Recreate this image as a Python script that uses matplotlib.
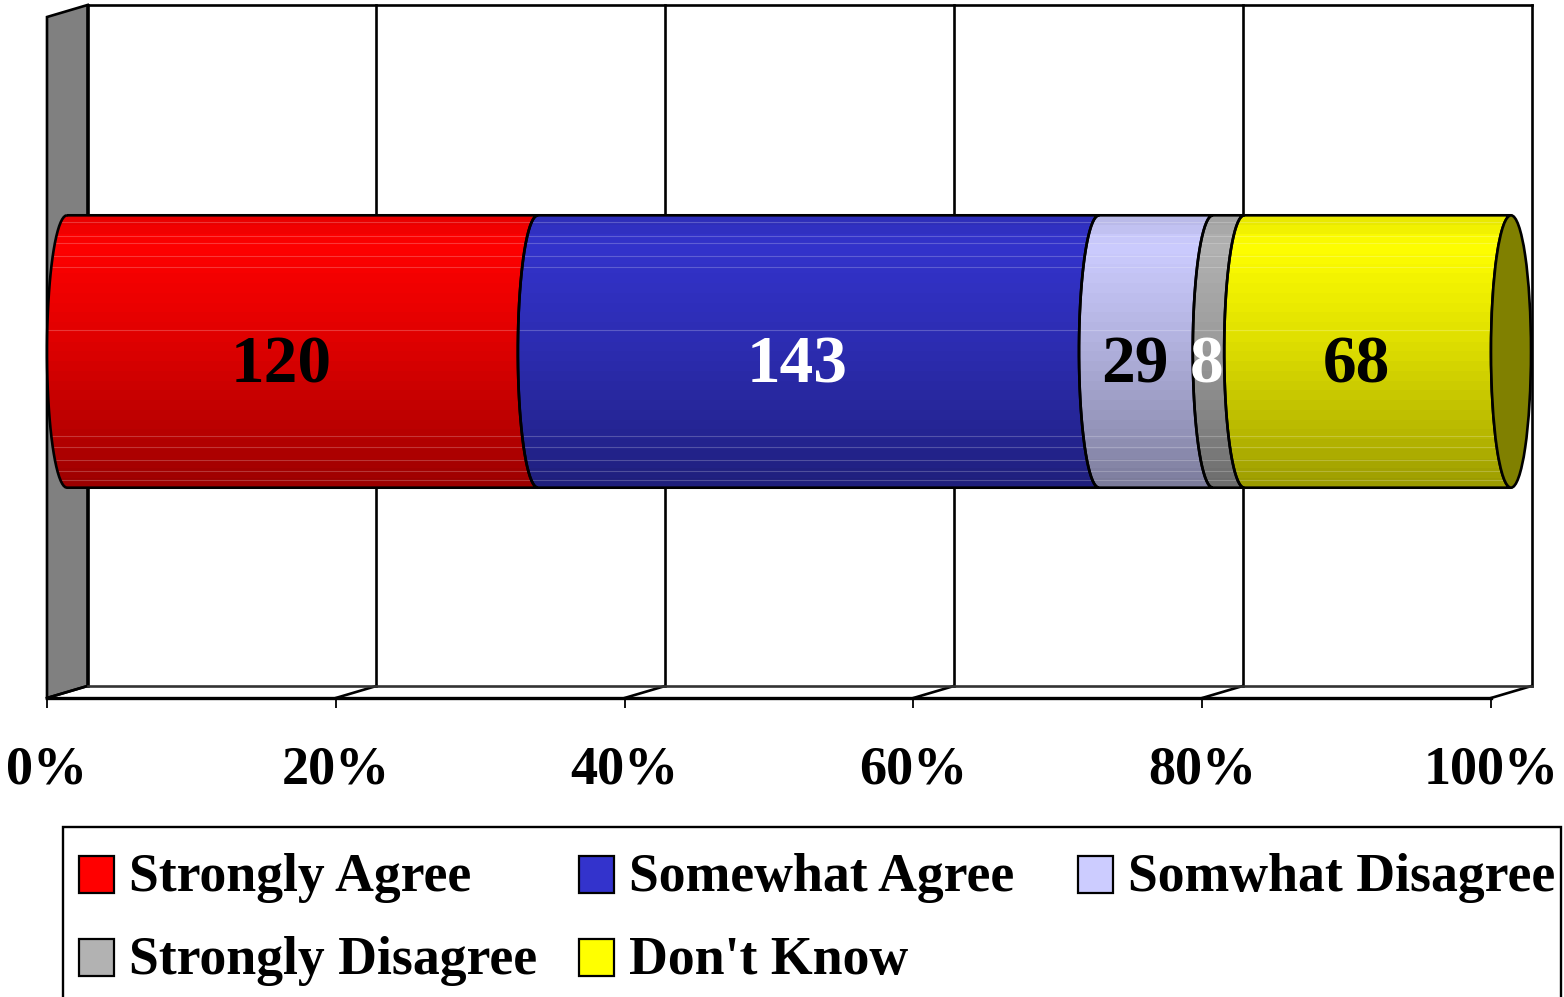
#!/usr/bin/env python3
"""100% stacked cylinder bar with a 3D-looking wall and floor."""

import numpy as np
import matplotlib
matplotlib.use('Agg')
import matplotlib.pyplot as plt
from matplotlib.patches import Ellipse, PathPatch, Polygon, Rectangle
from matplotlib.path import Path

# ======================== Data ========================
categories = ['Strongly Agree', 'Somewhat Agree', 'Somwhat Disagree',
              'Strongly Disagree', "Don't Know"]
counts = [120, 143, 29, 8, 68]
tick_values = [0, 20, 40, 60, 80, 100]
tick_labels = ['0%', '20%', '40%', '60%', '80%', '100%']

colors = ['#FF0000', '#3333CC', '#CCCCFF', '#B2B2B2', '#FFFF00']
label_colors = ['black', 'white', 'black', 'white', 'black']

W, H = 1564, 997
plt.rcParams['font.family'] = ['Liberation Serif', 'DejaVu Serif']
plt.rcParams['font.weight'] = 'bold'

fig = plt.figure(figsize=(W / 100, H / 100), dpi=100, facecolor='white')

# Legend layer in pixel coordinates
lax = fig.add_axes([0, 0, 1, 1])
lax.set_xlim(0, W)
lax.set_ylim(H, 0)
lax.axis('off')

ax = fig.add_axes([47 / W, (H - 698) / H, 1444 / W, 681 / H])
ax.patch.set_visible(False)

# depth of the 3D box in data units
DX = 40.5 / 14.44
DY = 12 / 681
LW = 1.9


def cylinder_segment(x0, x1, cy, rx, ry):
    t = np.linspace(0, np.pi, 40)
    left = np.column_stack([x0 - rx * np.sin(t), cy + ry * np.cos(t)])
    right = np.column_stack([x1 - rx * np.sin(t[::-1]), cy + ry * np.cos(t[::-1])])
    return Path(np.vstack([left, right, left[:1]]))


# ----- wall, floor, grid -----
ax.add_patch(Polygon([(0, 0), (DX, DY), (DX, 1 + DY), (0, 1)], closed=True,
                     facecolor='#808080', edgecolor='black', lw=LW, zorder=1,
                     clip_on=False))
for v in tick_values:
    ax.plot([v + DX, v + DX], [DY, 1 + DY], color='black', lw=LW, zorder=1,
            clip_on=False)
    ax.plot([v, v + DX], [0, DY], color='black', lw=LW, zorder=1, clip_on=False)
ax.plot([DX, 100 + DX], [1 + DY, 1 + DY], color='black', lw=LW, zorder=1,
        clip_on=False)
ax.plot([DX, 100 + DX], [DY, DY], color='#333333', lw=LW, zorder=1, clip_on=False)

# ----- cylinder -----
total = sum(counts)
shares = [c / total * 100 for c in counts]
cy = 0.5 + DY / 2
ry = 0.2
rx = 20 / 14.44

shade_pos = [0.0, 0.11, 0.5, 0.8, 1.0]
shade_val = [0.90, 1.0, 0.86, 0.72, 0.60]
n_bands = 28
band_pos = (np.arange(n_bands) + 0.5) / n_bands
shade = np.interp(band_pos, shade_pos, shade_val)
sheen = [0.025, 0.075, 0.10, 0.15, 0.19, 0.42, 0.81, 0.85, 0.90, 0.94, 0.97]

start = 0
for share, col, lab_col, count in zip(shares, colors, label_colors, counts):
    end = start + share
    x0 = start + rx
    x1 = end + rx
    path = cylinder_segment(x0, x1, cy, rx, ry)
    clip = PathPatch(path, transform=ax.transData, facecolor='none', edgecolor='none')
    ax.add_patch(clip)
    rgb = np.array(matplotlib.colors.to_rgb(col))
    grad = shade[:, None, None] * rgb[None, None, :]
    im = ax.imshow(grad, extent=[x0 - rx, x1, cy - ry, cy + ry], aspect='auto',
                   interpolation='nearest', zorder=2)
    im.set_clip_path(clip)
    im.set_clip_box(fig.bbox)
    lines = ax.hlines([cy + ry - 2 * ry * s for s in sheen], x0 - rx, x1,
                      color='white', alpha=0.22, lw=0.8, zorder=3)
    lines.set_clip_path(clip)
    lines.set_clip_box(fig.bbox)
    ax.add_patch(PathPatch(path, facecolor='none', edgecolor='black', lw=LW,
                           zorder=4, clip_on=False))
    ax.text((start + end) / 2 - 0.1, 0.488, str(count), ha='center', va='center',
            color=lab_col, fontsize=48.5, fontweight='bold', zorder=6)
    start = end

ax.add_patch(Ellipse((100 + rx, cy), 2 * rx, 2 * ry, facecolor='#808000',
                     edgecolor='black', lw=LW, zorder=5, clip_on=False))

# ----- axis -----
ax.set_xlim(0, 100)
ax.set_ylim(0, 1)
ax.set_yticks([])
ax.set_xticks(tick_values)
ax.set_xticklabels(tick_labels, fontsize=39, fontweight='bold')
ax.tick_params(axis='x', length=7.2, width=1.3, pad=27, color='black')
for name in ['top', 'left', 'right']:
    ax.spines[name].set_visible(False)
ax.spines['bottom'].set_linewidth(2.4)

# ----- legend -----
lax.add_patch(Rectangle((62.5, 827), 1498, 190, facecolor='white', edgecolor='black',
                        lw=1.7))
legend_x = [79, 579, 1078, 79, 579]
legend_y = [874, 874, 874, 957, 957]
for name, col, lx, ly in zip(categories, colors, legend_x, legend_y):
    lax.add_patch(Rectangle((lx, ly - 18), 35, 37, facecolor=col, edgecolor='black',
                            lw=1.6))
    lax.text(lx + 50, ly + 4, name, ha='left', va='center', fontsize=38.7,
             fontweight='bold', color='black')

fig.savefig('out.png', dpi=100, facecolor='white')
